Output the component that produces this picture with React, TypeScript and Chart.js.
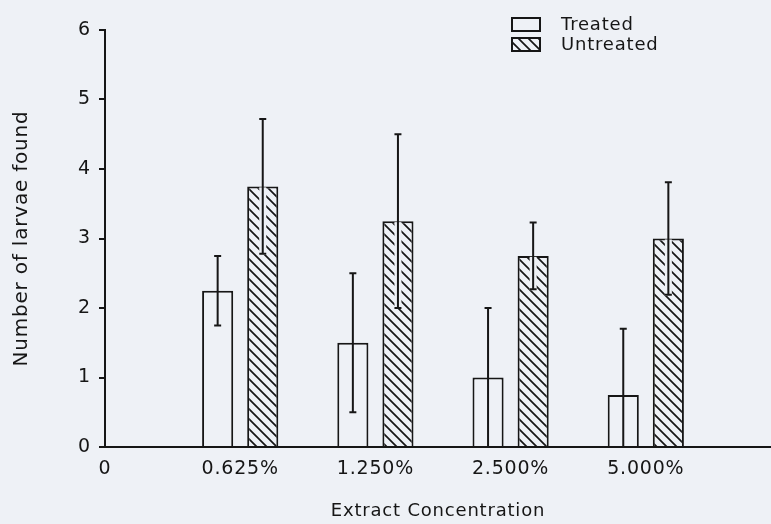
import { useEffect, useRef } from 'react';
import { Chart, registerables } from 'chart.js';

Chart.register(...registerables);

// ---- data ----
const CATEGORIES = ['0', '0.625%', '1.250%', '2.500%', '5.000%'];
const SERIES_LABELS = ['Treated', 'Untreated'];
const TREATED_MEAN: (number | null)[] = [null, 2.25, 1.5, 1.0, 0.75];
const TREATED_ERR: (number | null)[] = [null, 0.5, 1.0, 1.0, 0.95];
const UNTREATED_MEAN: (number | null)[] = [null, 3.75, 3.25, 2.75, 3.0];
const UNTREATED_ERR: (number | null)[] = [null, 0.97, 1.25, 0.48, 0.81];
const Y_MIN = 0;
const Y_MAX = 6;
const X_TITLE = 'Extract Concentration';
const Y_TITLE = 'Number of larvae found';

// ---- style ----
const BG = '#eef1f6';
const INK = '#161616';
const FONT = 'DejaVu Sans';
const SPACING = '0.8px';

function makeHatch(ctx: CanvasRenderingContext2D) {
  const c = document.createElement('canvas');
  c.width = 10;
  c.height = 10;
  const g = c.getContext('2d')!;
  g.fillStyle = BG;
  g.fillRect(0, 0, 10, 10);
  g.strokeStyle = INK;
  g.lineWidth = 1.7;
  g.beginPath();
  g.moveTo(-2, -2);
  g.lineTo(12, 12);
  g.moveTo(-2, 8);
  g.lineTo(2, 12);
  g.moveTo(8, -2);
  g.lineTo(12, 2);
  g.stroke();
  return ctx.createPattern(c, 'repeat')!;
}

const spacingPlugin = {
  id: 'spacing',
  beforeLayout(chart: any) {
    chart.ctx.letterSpacing = SPACING;
  },
  beforeDraw(chart: any) {
    chart.ctx.letterSpacing = SPACING;
  },
};

const errorBarsPlugin = {
  id: 'errorBars',
  afterDatasetsDraw(chart: any) {
    const ctx = chart.ctx as CanvasRenderingContext2D;
    const y = chart.scales.y;
    chart.data.datasets.forEach((ds: any, di: number) => {
      const meta = chart.getDatasetMeta(di);
      meta.data.forEach((bar: any, i: number) => {
        const v = ds.data[i].y;
        const e = ds.errors[i];
        if (v == null || e == null) return;
        const lo = Math.max(Y_MIN, v - e);
        const hi = v + e;
        const px = bar.x;
        const pTop = y.getPixelForValue(hi);
        const pBot = y.getPixelForValue(lo);
        const pBar = y.getPixelForValue(v);
        ctx.save();
        if (ds.hatched) {
          ctx.fillStyle = BG;
          ctx.fillRect(px - 3.5, pBar + 1, 7, pBot - pBar);
        }
        ctx.strokeStyle = INK;
        ctx.lineWidth = 2;
        ctx.beginPath();
        ctx.moveTo(px, pTop);
        ctx.lineTo(px, pBot);
        ctx.moveTo(px - 3.5, pTop);
        ctx.lineTo(px + 3.5, pTop);
        if (lo > Y_MIN) {
          ctx.moveTo(px - 3.5, pBot);
          ctx.lineTo(px + 3.5, pBot);
        }
        ctx.stroke();
        ctx.restore();
      });
    });
  },
};

const legendPlugin = {
  id: 'customLegend',
  afterDraw(chart: any) {
    const ctx = chart.ctx as CanvasRenderingContext2D;
    const x0 = chart.width - 259;
    const rows = [18, 38];
    ctx.save();
    ctx.letterSpacing = SPACING;
    chart.data.datasets.forEach((ds: any, i: number) => {
      const yy = rows[i];
      ctx.fillStyle = ds.backgroundColor;
      ctx.fillRect(x0, yy, 28, 13);
      ctx.strokeStyle = INK;
      ctx.lineWidth = 2;
      ctx.strokeRect(x0, yy, 28, 13);
      ctx.fillStyle = INK;
      ctx.font = `18px "${FONT}"`;
      ctx.textBaseline = 'middle';
      ctx.textAlign = 'left';
      ctx.fillText(SERIES_LABELS[i], x0 + 49, yy + 7);
    });
    ctx.restore();
  },
};

export default function App() {
  const ref = useRef<HTMLCanvasElement>(null);

  useEffect(() => {
    document.body.style.margin = '0';
    const canvas = ref.current!;
    const ctx = canvas.getContext('2d')!;
    const hatch = makeHatch(ctx);

    const chart = new Chart(ctx, {
      type: 'bar',
      data: {
        datasets: [
          {
            label: SERIES_LABELS[0],
            data: CATEGORIES.map((_, i) => ({ x: i, y: TREATED_MEAN[i] })) as any,
            errors: TREATED_ERR,
            hatched: false,
            backgroundColor: BG,
            borderColor: INK,
            borderWidth: 2,
            borderSkipped: 'start',
            categoryPercentage: 0.667,
            barPercentage: 0.69,
          } as any,
          {
            label: SERIES_LABELS[1],
            data: CATEGORIES.map((_, i) => ({ x: i, y: UNTREATED_MEAN[i] })) as any,
            errors: UNTREATED_ERR,
            hatched: true,
            backgroundColor: hatch,
            borderColor: INK,
            borderWidth: 2,
            borderSkipped: 'start',
            categoryPercentage: 0.667,
            barPercentage: 0.69,
          } as any,
        ],
      },
      options: {
        responsive: false,
        animation: false,
        layout: { padding: { top: 30, left: 0, right: 0, bottom: 0 } },
        plugins: {
          legend: { display: false },
          tooltip: { enabled: false },
        },
        scales: {
          x: {
            type: 'linear',
            min: 0,
            max: 4.926,
            offset: false,
            afterFit(s: any) {
              s.height = 77;
            },
            grid: { display: false, drawTicks: false },
            border: { display: true, color: INK, width: 2 },
            ticks: {
              stepSize: 1,
              includeBounds: false,
              autoSkip: false,
              maxRotation: 0,
              padding: 11,
              color: INK,
              font: { family: FONT, size: 19 },
              callback: (v: any) => CATEGORIES[v] ?? '',
            },
            title: {
              display: true,
              text: X_TITLE,
              color: INK,
              font: { family: FONT, size: 18 },
              padding: { top: 0, bottom: 2 },
            },
          },
          y: {
            min: Y_MIN,
            max: Y_MAX,
            afterFit(s: any) {
              s.width = 105;
            },
            grid: {
              drawOnChartArea: false,
              drawTicks: true,
              tickLength: 6,
              color: INK,
              lineWidth: 2,
            },
            border: { display: true, color: INK, width: 2 },
            ticks: {
              stepSize: 1,
              padding: 8,
              color: INK,
              font: { family: FONT, size: 19 },
            },
            title: {
              display: true,
              text: Y_TITLE,
              color: INK,
              font: { family: FONT, size: 20 },
              padding: { top: 10, bottom: 0 },
            },
          },
        },
      } as any,
      plugins: [spacingPlugin, errorBarsPlugin, legendPlugin],
    });

    return () => chart.destroy();
  }, []);

  return (
    <canvas
      ref={ref}
      width={771}
      height={524}
      style={{ display: 'block', background: BG }}
    />
  );
}
